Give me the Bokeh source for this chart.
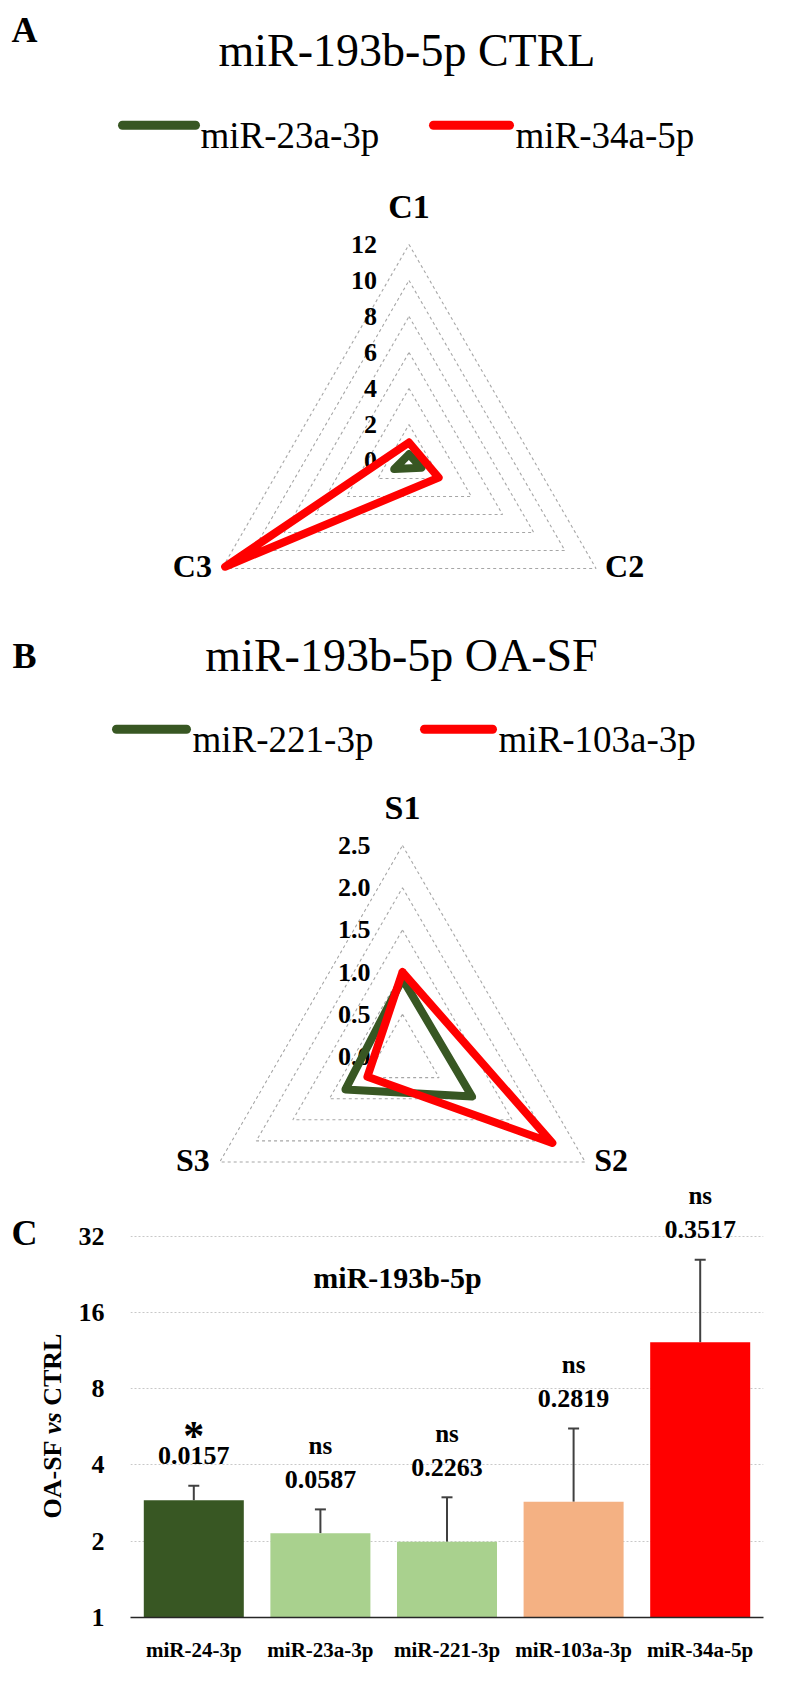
import math
from bokeh.plotting import figure
from bokeh.models import Range1d, FixedTicker, ColumnDataSource, Whisker, TeeHead
from bokeh.layouts import column, row
from bokeh.embed import file_html
from bokeh.resources import INLINE
from bokeh.core.properties import value

FONT = "Liberation Serif"
GREEN = "#385723"
RED = "#FF0000"
GRID = "#A6A6A6"

# ---------------- data ----------------
# Panel A: radar, miR-193b-5p CTRL
a_axes = ["C1", "C2", "C3"]
a_names = ["miR-23a-3p", "miR-34a-5p"]
a_green = [0.35, 0.8, 0.95]
a_red = [1.0, 1.9, 11.8]
a_ticks = [0, 2, 4, 6, 8, 10, 12]
a_tick_labels = ["0", "2", "4", "6", "8", "10", "12"]

# Panel B: radar, miR-193b-5p OA-SF
b_axes = ["S1", "S2", "S3"]
b_names = ["miR-221-3p", "miR-103a-3p"]
b_green = [0.92, 0.95, 0.78]
b_red = [1.0, 2.05, 0.48]
b_ticks = [0.0, 0.5, 1.0, 1.5, 2.0, 2.5]
b_tick_labels = ["0.0", "0.5", "1.0", "1.5", "2.0", "2.5"]

# Panel C: bar chart, OA-SF vs CTRL (log2 scale)
c_categories = ["miR-24-3p", "miR-23a-3p", "miR-221-3p", "miR-103a-3p", "miR-34a-5p"]
c_fold = [2.90, 2.15, 1.99, 2.86, 12.2]
c_err = [0.41, 0.52, 0.99, 2.71, 13.6]
c_pvalues = ["0.0157", "0.0587", "0.2263", "0.2819", "0.3517"]
c_signif = ["*", "ns", "ns", "ns", "ns"]
c_colors = ["#385723", "#A9D18E", "#A9D18E", "#F4B183", "#FF0000"]
c_ticks = [1, 2, 4, 8, 16, 32]
c_tick_labels = ["1", "2", "4", "8", "16", "32"]

W = 782
ANGLES = [math.pi / 2, -math.pi / 6, 7 * math.pi / 6]


def no_align(p):
    if "frame_align" in p.properties():
        p.frame_align = False
    return p


def txt(p, x, y, t, size, style="bold", align="center", baseline="middle", color="black", angle=0.0):
    p.text(x=[x], y=[y], text=[t], text_font=value(FONT), text_font_size=size,
           text_font_style=style, text_align=align, text_baseline=baseline,
           text_color=color, angle=angle)


def radar(page_top, height, cxp, cyp, rpx, ticks, tick_labels, axes, green, red,
          names, letter, title, title_base, leg):
    rmax = ticks[-1]
    k = rpx / rmax
    cx = cxp - 8
    cy = cyp - page_top
    p = figure(width=W, height=height, output_backend="svg", toolbar_location=None,
               x_range=Range1d(-cx / k, (W - cx) / k),
               y_range=Range1d(-(height - cy) / k, cy / k),
               x_axis_location=None, y_axis_location=None, min_border=0)
    no_align(p)
    p.grid.visible = False
    p.outline_line_color = None

    def P(xp, yp):
        return ((xp - 8 - cx) / k, (cy - (yp - page_top)) / k)

    # rings
    xs, ys = [], []
    for v in ticks:
        if v <= 0:
            continue
        xs.append([v * math.cos(a) for a in ANGLES] + [v * math.cos(ANGLES[0])])
        ys.append([v * math.sin(a) for a in ANGLES] + [v * math.sin(ANGLES[0])])
    p.multi_line(xs, ys, line_color=GRID, line_width=1.1, line_dash="3 3")

    # tick labels
    p.text(x=[-32 / k] * len(ticks), y=ticks, text=tick_labels, text_font=value(FONT),
           text_font_size="26px", text_font_style="bold", text_align="right",
           text_baseline="middle")

    # axis labels
    txt(p, 0, rmax + 38 / k, axes[0], "34px")
    c2x, c2y = rmax * math.cos(ANGLES[1]), rmax * math.sin(ANGLES[1])
    c3x, c3y = rmax * math.cos(ANGLES[2]), rmax * math.sin(ANGLES[2])
    txt(p, c2x + 9 / k, c2y + 2.5 / k, axes[1], "32px", align="left")
    txt(p, c3x - 10 / k, c3y + 2.5 / k, axes[2], "32px", align="right")

    # series
    for vals, col in ((green, GREEN), (red, RED)):
        px_ = [v * math.cos(a) for v, a in zip(vals, ANGLES)]
        py_ = [v * math.sin(a) for v, a in zip(vals, ANGLES)]
        p.line(px_ + [px_[0]], py_ + [py_[0]], line_color=col, line_width=8,
               line_join="round", line_cap="round")

    # letter and title
    lx, ly = P(32, letter[1])
    txt(p, lx, ly, letter[0], "36px")
    tx, ty = P(title_base[0], title_base[1])
    txt(p, tx, ty, title, "46px", style="normal", baseline="alphabetic")

    # legend
    (g0, g1, gt, r0, r1, rt, ly_line, ly_text) = leg
    for (x0, x1, xt, col, nm) in ((g0, g1, gt, GREEN, names[0]), (r0, r1, rt, RED, names[1])):
        a0 = P(x0, ly_line)
        a1 = P(x1, ly_line)
        p.line([a0[0], a1[0]], [a0[1], a1[1]], line_color=col, line_width=9, line_cap="round")
        t0 = P(xt, ly_text)
        txt(p, t0[0], t0[1], nm, "37px", style="normal", align="left", baseline="alphabetic")
    return p


B_TOP = 598
C_TOP = 1188
pA = radar(8, B_TOP - 8, 416.5, 468, 216, a_ticks, a_tick_labels, a_axes, a_green, a_red,
           a_names, ("A", 37), "miR-193b-5p CTRL", (414.5, 58),
           (130, 203, 208, 441, 517, 523, 132.7, 143.3))
pB = radar(B_TOP, C_TOP - B_TOP, 410, 1064, 211, b_ticks, b_tick_labels, b_axes, b_green,
           b_red, b_names, ("B", 663), "miR-193b-5p OA-SF", (409, 663),
           (124, 194, 200, 432, 500, 506, 736.7, 746.7))

# ---------------- panel C ----------------
C_H = 1679 - C_TOP
LEFT_W = 70
FRAME_L, FRAME_R, FRAME_B = 138, 771, 1625
ppd = 76.3  # pixels per doubling on the log2 axis
ymax = 2 ** ((FRAME_B - C_TOP) / ppd)
catw = (FRAME_R - FRAME_L) / 5.0
CW = W - LEFT_W

pC = figure(width=CW, height=C_H, output_backend="svg", toolbar_location=None,
            x_range=Range1d(0.5, 5.5), y_range=Range1d(1, ymax), y_axis_type="log",
            min_border_left=FRAME_L - 8 - LEFT_W, min_border_right=W + 8 - FRAME_R,
            min_border_top=0, min_border_bottom=C_H - (FRAME_B - C_TOP))
no_align(pC)
pC.outline_line_color = None
pC.xgrid.visible = False
pC.ygrid.ticker = FixedTicker(ticks=c_ticks)
pC.ygrid.grid_line_color = "#C8C8C8"
pC.ygrid.grid_line_dash = "2 2"
pC.ygrid.grid_line_width = 1
pC.ygrid.minor_grid_line_color = None

xs = list(range(1, len(c_categories) + 1))
upper = [f + e for f, e in zip(c_fold, c_err)]
src = ColumnDataSource(dict(x=xs, top=c_fold, upper=upper, color=c_colors))
pC.vbar(x="x", top="top", bottom=1, width=0.79, fill_color="color", line_color=None, source=src)
pC.add_layout(Whisker(source=src, base="x", upper="upper", lower="top",
                      line_color="#404040", line_width=2,
                      upper_head=TeeHead(size=11, line_color="#404040", line_width=2),
                      lower_head=None))

# value and significance labels above error bars
VAL_GAP, SIG_GAP = 30, 64
pC.text(x=xs, y=[u * 2 ** (VAL_GAP / ppd) for u in upper], text=c_pvalues,
        text_font=value(FONT), text_font_size="26px", text_font_style="bold",
        text_align="center", text_baseline="middle")
for xi, u, s in zip(xs, upper, c_signif):
    if s == "*":
        txt(pC, xi, u * 2 ** (50 / ppd), s, "42px", baseline="alphabetic")
    else:
        txt(pC, xi, u * 2 ** (SIG_GAP / ppd), s, "25px")


def Pc(xp, yp):
    return (0.5 + (xp - FRAME_L) / catw, 2 ** ((FRAME_B - yp) / ppd))


ix, iy = Pc(405, 1285)
txt(pC, ix, iy, "miR-193b-5p", "30px")

# axes styling
pC.xaxis.ticker = FixedTicker(ticks=xs)
pC.xaxis.major_label_overrides = {x: c for x, c in zip(xs, c_categories)}
pC.xaxis.axis_line_color = "#262626"
pC.xaxis.axis_line_width = 1.6
pC.xaxis.major_tick_line_color = None
pC.xaxis.minor_tick_line_color = None
pC.xaxis.major_tick_out = 0
pC.xaxis.major_tick_in = 0
pC.xaxis.major_label_standoff = 20
pC.xaxis.major_label_text_font = FONT
pC.xaxis.major_label_text_font_size = "21px"
pC.xaxis.major_label_text_font_style = "bold"
pC.xaxis.major_label_text_color = "black"

pC.yaxis.ticker = FixedTicker(ticks=c_ticks)
pC.yaxis.major_label_overrides = {t: l for t, l in zip(c_ticks, c_tick_labels)}
pC.yaxis.axis_line_color = None
pC.yaxis.major_tick_line_color = None
pC.yaxis.minor_tick_line_color = None
pC.yaxis.major_tick_out = 0
pC.yaxis.major_tick_in = 0
pC.yaxis.major_label_standoff = 26
pC.yaxis.major_label_text_font = FONT
pC.yaxis.major_label_text_font_size = "26px"
pC.yaxis.major_label_text_font_style = "bold"
pC.yaxis.major_label_text_color = "black"

# left strip: panel letter and y-axis title (with italic "vs"), in page pixels
pL = figure(width=LEFT_W, height=C_H, output_backend="svg", toolbar_location=None,
            x_range=Range1d(8, 8 + LEFT_W), y_range=Range1d(C_TOP + C_H, C_TOP),
            x_axis_location=None, y_axis_location=None, min_border=0)
no_align(pL)
pL.grid.visible = False
pL.outline_line_color = None
txt(pL, 32, 1240, "C", "36px")
for piece, ystart, style in (("OA-SF", 1526, "bold"), ("vs", 1441.5, "bold italic"),
                             ("CTRL", 1413.3, "bold")):
    txt(pL, 60, ystart, piece, "26px", style=style, align="left", angle=math.pi / 2)

layout = column(pA, pB, row(pL, pC, spacing=0), spacing=0)
open("out.html", "w").write(file_html(layout, INLINE))
